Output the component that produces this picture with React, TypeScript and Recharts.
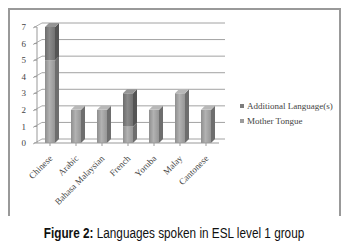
import React from 'react';
import { BarChart, Bar, XAxis, YAxis, CartesianGrid } from 'recharts';

const languages = ['Chinese', 'Arabic', 'Bahasa Malaysian', 'French', 'Yoruba', 'Malay', 'Cantonese'];
const motherTongue = [5, 2, 2, 1, 2, 3, 2];
const additional = [2, 0, 0, 2, 0, 0, 0];
const yTicks = [0, 1, 2, 3, 4, 5, 6, 7];
const legendItems = [
  { label: 'Additional Language(s)', color: '#7c7c7c' },
  { label: 'Mother Tongue', color: '#9c9c9c' },
];

const data = languages.map((name, i) => ({
  name,
  mother: motherTongue[i],
  additional: additional[i],
}));

const DEPTH = 4;

// front face + side + top, a rough take on the excel 3d column
const Column3D = (props: any) => {
  const { x, y, width, height, gradId, side, top } = props;
  if (!height || height <= 0) return null;
  const d = DEPTH;
  return (
    <g>
      <rect x={x} y={y} width={width} height={height} fill={`url(#${gradId})`} />
      <polygon
        points={`${x + width},${y} ${x + width + d},${y - d} ${x + width + d},${y + height - d} ${x + width},${y + height}`}
        fill={side}
      />
      <polygon
        points={`${x},${y} ${x + d},${y - d} ${x + width + d},${y - d} ${x + width},${y}`}
        fill={top}
      />
    </g>
  );
};

const gridLine = (p: any) => {
  const { x1, x2, y1, key } = p;
  return (
    <g key={key}>
      <line x1={x1 - 4} y1={y1 + 1} x2={x1 + 5} y2={y1 - 4} stroke="#9a9a9a" strokeWidth={0.8} />
      <line x1={x1 + 5} y1={y1 - 4} x2={x2 + 6} y2={y1 - 4} stroke="#8a8a8a" strokeWidth={0.8} />
    </g>
  );
};

const XTick = (props: any) => {
  const { x, y, payload } = props;
  return (
    <text
      x={x + 3}
      y={y + 11}
      transform={`rotate(-45, ${x + 3}, ${y + 11})`}
      textAnchor="end"
      fontSize={9}
      fontFamily="Liberation Serif, DejaVu Serif, serif"
      fill="#444"
    >
      {payload.value}
    </text>
  );
};

export default function App() {
  return (
    <div style={{ position: 'absolute', left: 0, top: 0, width: 349, height: 241, background: '#fff' }}>
      <div
        style={{
          position: 'absolute',
          left: 8,
          top: 8,
          width: 333,
          height: 208,
          borderTop: '2px solid #999',
          borderLeft: '2px solid #999',
          borderRight: '2px solid #999',
          boxSizing: 'border-box',
        }}
      />
      <div style={{ position: 'absolute', left: 0, top: 0 }}>
        <BarChart width={349} height={215} data={data} margin={{ top: 27, right: 130, bottom: 42, left: 0 }} barSize={10}>
          <defs>
            <linearGradient id="gMother" x1="0" y1="0" x2="1" y2="0">
              <stop offset="0%" stopColor="#8e8e8e" />
              <stop offset="45%" stopColor="#b2b2b2" />
              <stop offset="100%" stopColor="#969696" />
            </linearGradient>
            <linearGradient id="gAdd" x1="0" y1="0" x2="1" y2="0">
              <stop offset="0%" stopColor="#6c6c6c" />
              <stop offset="45%" stopColor="#8a8a8a" />
              <stop offset="100%" stopColor="#727272" />
            </linearGradient>
          </defs>
          <CartesianGrid vertical={false} horizontal={gridLine} />
          <XAxis
            dataKey="name"
            height={30}
            interval={0}
            tick={<XTick />}
            tickLine={{ stroke: '#999' }}
            axisLine={{ stroke: '#999' }}
            tickSize={3}
          />
          <YAxis
            width={37}
            domain={[0, 7]}
            ticks={yTicks}
            interval={0}
            tick={{ fontSize: 9, fontFamily: 'Liberation Serif, DejaVu Serif, serif', fill: '#444', dx: -6 }}
            tickLine={{ stroke: '#999' }}
            axisLine={{ stroke: '#999' }}
            tickSize={3}
            tickMargin={2}
          />
          <Bar
            dataKey="mother"
            name="Mother Tongue"
            stackId="a"
            fill="#9c9c9c"
            isAnimationActive={false}
            shape={(p: any) => <Column3D {...p} gradId="gMother" side="#6e6e6e" top="#b8b8b8" />}
          />
          <Bar
            dataKey="additional"
            name="Additional Language(s)"
            stackId="a"
            fill="#7c7c7c"
            isAnimationActive={false}
            shape={(p: any) => <Column3D {...p} gradId="gAdd" side="#555" top="#959595" />}
          />
        </BarChart>
      </div>
      <div
        style={{
          position: 'absolute',
          left: 240,
          top: 98,
          fontFamily: 'Liberation Serif, DejaVu Serif, serif',
          fontSize: 9,
          color: '#444',
          whiteSpace: 'nowrap',
        }}
      >
        {legendItems.map((r) => (
          <div key={r.label} style={{ display: 'flex', alignItems: 'center', height: 15 }}>
            <span style={{ width: 4, height: 4, background: r.color, marginRight: 3 }} />
            {r.label}
          </div>
        ))}
      </div>
      <div
        style={{
          position: 'absolute',
          left: 0,
          top: 224,
          width: 349,
          textAlign: 'center',
          whiteSpace: 'nowrap',
        }}
      >
        <span
          style={{
            display: 'inline-block',
            transform: 'scaleX(0.84)',
            transformOrigin: 'center',
            fontFamily: '"Liberation Sans", Arial, sans-serif',
            fontSize: 14,
            color: '#111',
          }}
        >
          <b>Figure 2:</b> Languages spoken in ESL level 1 group
        </span>
      </div>
    </div>
  );
}
